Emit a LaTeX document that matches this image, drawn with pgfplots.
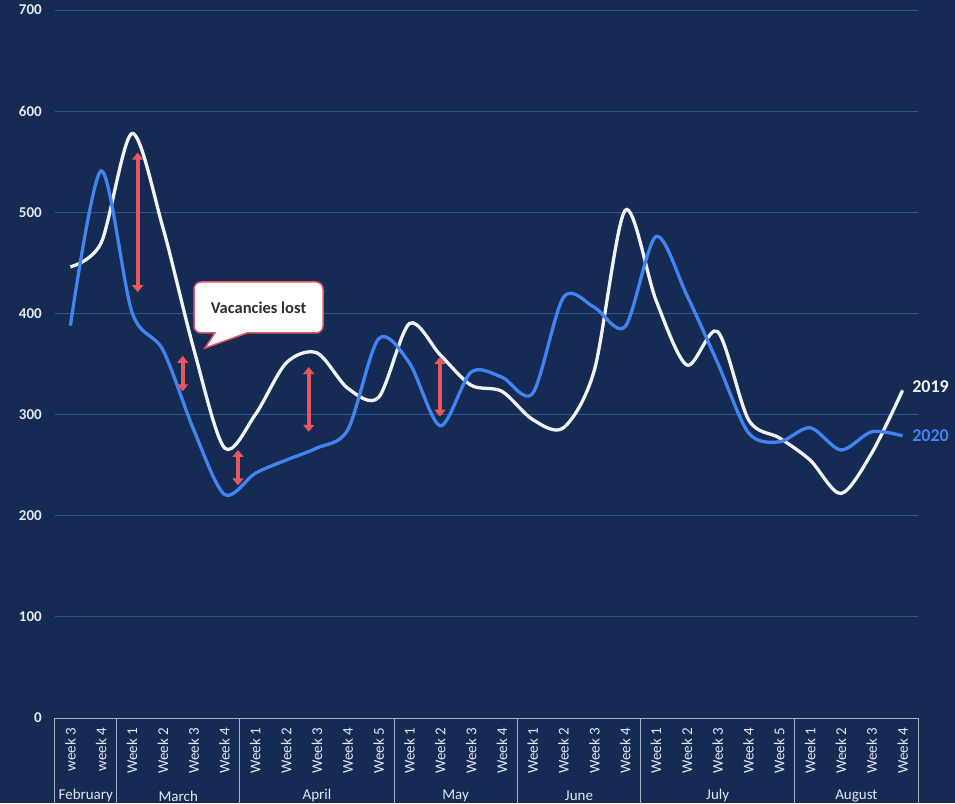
\documentclass[border=0pt]{standalone}
\usepackage{pgfplots}
\pgfplotsset{compat=1.18}
\usepackage{fontspec}
\setmainfont{Carlito}
\usetikzlibrary{arrows.meta}

\definecolor{bg}{RGB}{21,43,83}
\definecolor{gridc}{RGB}{46,86,146}
\definecolor{boxc}{RGB}{165,178,200}
\definecolor{tickc}{RGB}{228,232,240}
\definecolor{blueline}{RGB}{66,133,240}
\definecolor{whiteline}{RGB}{242,242,246}
\definecolor{redarrow}{RGB}{232,86,96}
\definecolor{calltext}{RGB}{45,45,50}

\pgfplotstableread{
x y
0 446
1 470
2 578
3 485
4 365
5 267
6 300
7 351
8 361
9 326
10 317
11 390
12 359
13 329
14 323
15 295
16 287
17 344
18 502
19 413
20 349
21 382
22 295
23 277
24 255
25 222
26 262
27 324
}\dataA

\pgfplotstableread{
x y
0 388
1 541
2 401
3 364
4 285
5 221
6 242
7 255
8 267
9 285
10 375
11 351
12 289
13 342
14 337
15 321
16 416
17 406
18 387
19 476
20 418
21 351
22 282
23 273
24 287
25 265
26 283
27 279
}\dataB

\tikzset{
  sep/.style={boxc, line width=1pt},
  mon/.style={font=\fontsize{15}{15}\selectfont, text=tickc},
  dbl/.style={redarrow, line width=4pt, {Triangle[length=7pt,width=11pt]}-{Triangle[length=7pt,width=11pt]}},
}

\begin{document}
\begin{tikzpicture}[x=1pt,y=1pt]
\fill[bg] (-55,-85) rectangle (900,718);
\useasboundingbox (-55,-85) rectangle (900,718);
\begin{axis}[
  at={(0,0)}, anchor=south west,
  scale only axis, width=863pt, height=708pt,
  xmin=-0.5, xmax=27.5, ymin=0, ymax=700,
  clip=false,
  axis line style={draw=none},
  major tick length=0pt,
  ymajorgrids,
  grid style={gridc, line width=0.9pt},
  ytick={0,100,200,300,400,500,600,700},
  yticklabels={0,100,200,300,400,500,600,700},
  yticklabel style={font=\bfseries\fontsize{15}{15}\selectfont, text=tickc, anchor=east, inner sep=0pt},
  yticklabel shift=13pt,
  xtick={0,...,27},
  xticklabels={week 3,week 4,Week 1,Week 2,Week 3,Week 4,Week 1,Week 2,Week 3,Week 4,Week 5,Week 1,Week 2,Week 3,Week 4,Week 1,Week 2,Week 3,Week 4,Week 1,Week 2,Week 3,Week 4,Week 5,Week 1,Week 2,Week 3,Week 4},
  xticklabel style={font=\fontsize{15}{15}\selectfont, text=tickc, rotate=90, anchor=east, inner sep=0pt},
  xticklabel shift=10pt,
]
% category box
\draw[sep] (axis cs:-0.5,0) -- (axis cs:27.5,0);
\draw[sep] (axis cs:-0.5,0) -- (axis cs:-0.5,-90);
\draw[sep] (axis cs:1.5,0) -- (axis cs:1.5,-90);
\draw[sep] (axis cs:5.5,0) -- (axis cs:5.5,-90);
\draw[sep] (axis cs:10.5,0) -- (axis cs:10.5,-90);
\draw[sep] (axis cs:14.5,0) -- (axis cs:14.5,-90);
\draw[sep] (axis cs:18.5,0) -- (axis cs:18.5,-90);
\draw[sep] (axis cs:23.5,0) -- (axis cs:23.5,-90);
\draw[sep] (axis cs:27.5,0) -- (axis cs:27.5,-90);
\node[mon] at (axis cs:0.5,-77) {February};
\node[mon] at (axis cs:3.5,-77) {March};
\node[mon] at (axis cs:8,-77) {April};
\node[mon] at (axis cs:12.5,-77) {May};
\node[mon] at (axis cs:16.5,-77) {June};
\node[mon] at (axis cs:21,-77) {July};
\node[mon] at (axis cs:25.5,-77) {August};

\addplot[whiteline, line width=3.3pt, smooth, tension=0.5] table[x=x,y=y] {\dataA};
\addplot[blueline, line width=3.3pt, smooth, tension=0.5] table[x=x,y=y] {\dataB};

% arrows
\draw[dbl] (axis cs:2.183,559) -- (axis cs:2.183,421);
\draw[dbl] (axis cs:3.643,358) -- (axis cs:3.643,323);
\draw[dbl] (axis cs:5.438,265) -- (axis cs:5.438,230);
\draw[dbl] (axis cs:7.732,347) -- (axis cs:7.732,283);
\draw[dbl] (axis cs:11.992,357) -- (axis cs:11.992,298);

% callout
\draw[redarrow, fill=white, line width=1.5pt]
  (axis cs:4.691,380.7) -- (axis cs:4.367,365.8) -- (axis cs:5.73,380.7)
  [rounded corners=7pt] -- (axis cs:8.196,380.7) -- (axis cs:8.196,431.1) -- (axis cs:4.01,431.1) -- (axis cs:4.01,380.7) [sharp corners] -- cycle;
\node[font=\bfseries\fontsize{16.5}{17}\selectfont, text=calltext] at (axis cs:6.103,405.9) {Vacancies lost};

% series labels
\node[anchor=west, inner sep=0pt, font=\bfseries\fontsize{18}{18}\selectfont, text=whiteline] at (axis cs:27.31,328) {2019};
\node[anchor=west, inner sep=0pt, font=\bfseries\fontsize{18}{18}\selectfont, text=blueline] at (axis cs:27.31,279) {2020};
\end{axis}
\end{tikzpicture}
\end{document}
